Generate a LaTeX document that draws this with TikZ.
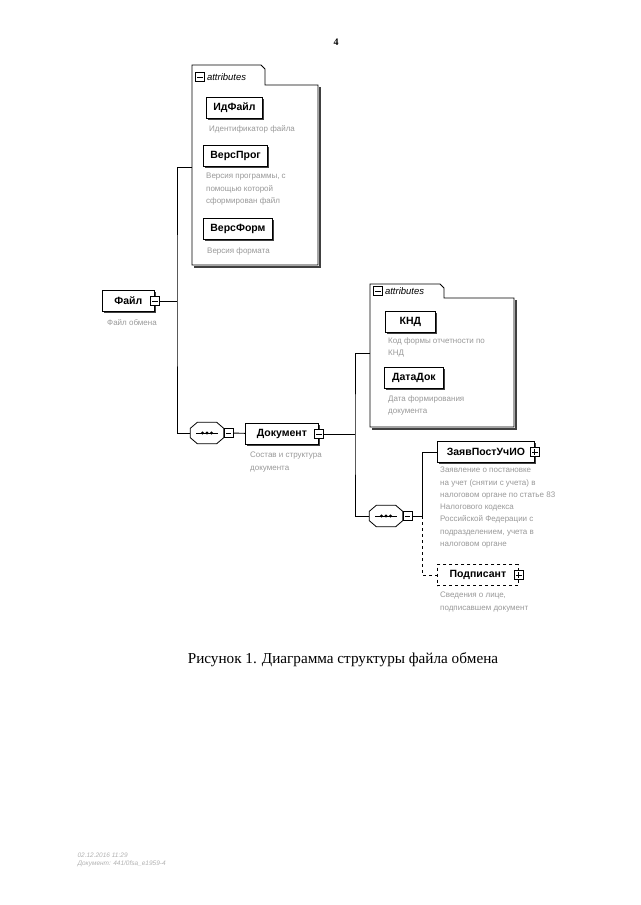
\documentclass[tikz,border=0pt]{standalone}
\usepackage{fontspec}
\setmainfont{Liberation Serif}
\setsansfont{Liberation Sans}
\usetikzlibrary{positioning, shadows}

\begin{document}
\begin{tikzpicture}[x=1pt, y=-1pt,
    box/.style={draw, fill=white, line width=0.8pt, minimum height=21pt,
                inner xsep=7pt, anchor=west,
                font=\sffamily\bfseries\fontsize{10.5}{12}\selectfont},
    elem/.style={box, general shadow={fill=black!75, shadow xshift=1.5pt,
                 shadow yshift=-1.5pt}},
    optelem/.style={box, dashed},
    desc/.style={anchor=north west, align=left, inner sep=0pt,
                 font=\sffamily\fontsize{8}{12.3}\selectfont, text=black!40},
    expmin/.style={draw, fill=white, minimum size=9pt, inner sep=0pt, line width=0.7pt,
                   path picture={\draw[line width=0.9pt]
                     ([xshift=1.8pt]path picture bounding box.west) --
                     ([xshift=-1.8pt]path picture bounding box.east);}},
    expplus/.style={draw, fill=white, minimum size=9pt, inner sep=0pt, line width=0.7pt,
                   path picture={\draw[line width=0.9pt]
                     ([xshift=1.8pt]path picture bounding box.west) --
                     ([xshift=-1.8pt]path picture bounding box.east)
                     ([yshift=-1.8pt]path picture bounding box.north) --
                     ([yshift=1.8pt]path picture bounding box.south);}},
    seq/.style={rectangle, minimum width=33pt, minimum height=21pt, inner sep=0pt,
                append after command={\pgfextra{
                  \draw[line width=0.8pt]
                    ([xshift=7pt]\tikzlastnode.north west) -- ([xshift=-7pt]\tikzlastnode.north east)
                    -- ([yshift=-6pt]\tikzlastnode.north east) -- ([yshift=6pt]\tikzlastnode.south east)
                    -- ([xshift=-7pt]\tikzlastnode.south east) -- ([xshift=7pt]\tikzlastnode.south west)
                    -- ([yshift=6pt]\tikzlastnode.south west) -- ([yshift=-6pt]\tikzlastnode.north west)
                    -- cycle;
                  \draw[line width=0.8pt] ([xshift=6pt]\tikzlastnode.west) --
                    ([xshift=-6pt]\tikzlastnode.east);
                  \fill ([xshift=-4.5pt]\tikzlastnode.center) circle (1.6pt);
                  \fill (\tikzlastnode.center) circle (1.6pt);
                  \fill ([xshift=4.5pt]\tikzlastnode.center) circle (1.6pt);}}},
    frame/.style={draw, fill=white, line width=0.8pt},
    frameshadow/.style={draw, line width=1.5pt, black!75},
    attrtitle/.style={inner sep=1pt, font=\sffamily\itshape\fontsize{9.5}{11}\selectfont},
    conn/.style={line width=0.9pt},
]
\fill[white] (0,0) rectangle (640,905);
\useasboundingbox (0,0) rectangle (640,905);

% --- Page number ---
\node[font=\bfseries\fontsize{10}{12}\selectfont] (pagenum) at (336,42) {4};

% --- Attributes of Файл ---
\draw[frameshadow] (320,87) -- (320,267) -- (194,267);
\draw[frame] (192,265) -- (192,65) -- (261,65) -- (265,69) -- (265,85)
    -- (318,85) -- (318,265) -- cycle;
\node[expmin] (attrexp1) at (200,77) {};
\node[attrtitle, right=1pt of attrexp1] (attrtitle1) {attributes};

\node[elem] (idfile) at (206,108) {ИдФайл};
\node[desc] (idfiledesc) at (209,125) {Идентификатор файла};
\node[elem] (versprog) at (203,156) {ВерсПрог};
\node[desc] (versprogdesc) at (206,173) {Версия программы, с\\помощью которой\\сформирован файл};
\node[elem] (versform) at (203,229) {ВерсФорм};
\node[desc] (versformdesc) at (207,247) {Версия формата};

% --- Root element ---
\node[elem, minimum width=52pt] (file) at (102,301) {Файл};
\node[expmin] (fileexp) at (file.east) {};
\node[desc] (filedesc) at (107,319) {Файл обмена};

% --- Документ ---
\node[seq] (seq1) at (207,433) {};
\node[expmin, anchor=west] (seq1exp) at (seq1.east) {};
\node[elem, minimum width=73pt] (doc) at (245,434) {Документ};
\node[expmin] (docexp) at (doc.east) {};
\node[desc] (docdesc) at (250,452) {Состав и структура\\документа};

% --- Attributes of Документ ---
\draw[frameshadow] (516,300) -- (516,429) -- (372,429);
\draw[frame] (370,427) -- (370,284) -- (440,284) -- (444,288) -- (444,298)
    -- (514,298) -- (514,427) -- cycle;
\node[expmin] (attrexp2) at (378,291) {};
\node[attrtitle, right=1pt of attrexp2] (attrtitle2) {attributes};

\node[elem, minimum width=50pt] (knd) at (385,322) {КНД};
\node[desc] (knddesc) at (388,337) {Код формы отчетности по\\КНД};
\node[elem, minimum width=59pt] (datadok) at (384,378) {ДатаДок};
\node[desc] (datadokdesc) at (388,395) {Дата формирования\\документа};

% --- Sequence of Документ ---
\node[seq] (seq2) at (386,516) {};
\node[expmin, anchor=west] (seq2exp) at (seq2.east) {};

\node[elem, minimum width=97pt] (zayav) at (437,452) {ЗаявПостУчИО};
\node[expplus] (zayavexp) at (zayav.east) {};
\node[desc] (zayavdesc) at (440,467) {Заявление о постановке\\на учет (снятии с учета) в\\налоговом органе по статье 83\\Налогового кодекса\\Российской Федерации с\\подразделением, учета в\\налоговом органе};

\node[optelem, minimum width=81pt] (podp) at (437,575) {Подписант};
\node[expplus] (podpexp) at (podp.east) {};
\node[desc] (podpdesc) at (440,592) {Сведения о лице,\\подписавшем документ};

% --- Connectors ---
\coordinate (spine1) at (177,301);
\coordinate (grp1) at (192,167);
\coordinate (spine2) at (355,434);
\coordinate (grp2) at (370,353);
\coordinate (spine3) at (422,516);

\draw[conn] (fileexp) -- (spine1);
\draw[conn] (grp1) -| (spine1) |- (seq1.west);
\draw[conn] (seq1exp) -- (doc);
\draw[conn] (docexp) -- (spine2);
\draw[conn] (grp2) -| (spine2) |- (seq2.west);
\draw[conn] (seq2exp) -- (spine3);
\draw[conn] (spine3) |- (zayav.west);
\draw[conn, dashed] (spine3) |- (podp.west);

% --- Caption ---
\node[font=\fontsize{15.2}{17}\selectfont] (caption) at (343,660)
    {Рисунок 1. Диаграмма структуры файла обмена};

% --- Stamp ---
\node[anchor=west, align=left, text=black!30, font=\sffamily\itshape\fontsize{6.5}{8}\selectfont]
    (stamp) at (74,860) {02.12.2016 11:29\\Документ: 441/0fsa\_e1959-4};
\end{tikzpicture}
\end{document}
